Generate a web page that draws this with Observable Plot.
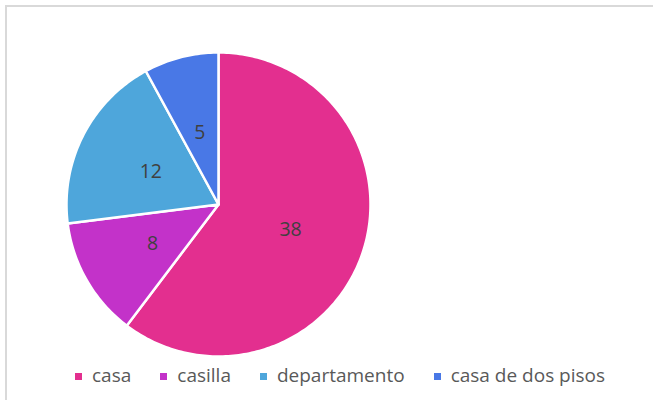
<!DOCTYPE html>
<html>
<head>
<meta charset="utf-8">
<script src="https://cdn.jsdelivr.net/npm/d3@7"></script>
<script src="https://cdn.jsdelivr.net/npm/@observablehq/plot@0.6"></script>
<style>
  html, body { margin: 0; padding: 0; background: #fff; }
  #wrap { position: relative; width: 653px; height: 400px; overflow: hidden; font-family: "Open Sans", sans-serif; }
  #frame { position: absolute; left: 5px; top: 5px; right: -10px; bottom: -10px; border-left: 2px solid #d9d9d9; border-top: 2px solid #d9d9d9; }
  #chart { position: absolute; left: 0; top: 0; }
  #legend { position: absolute; left: 75px; top: 362px; display: flex; align-items: center; font-size: 19px; color: #595959; white-space: nowrap; }
  .item { display: flex; align-items: center; margin-right: 29px; }
  .sw { width: 7px; height: 7px; margin-right: 10px; margin-top: 2px; }
</style>
</head>
<body>
<div id="wrap">
  <div id="frame"></div>
  <div id="chart"></div>
  <div id="legend"></div>
</div>
<script>
const categories = ["casa", "casilla", "departamento", "casa de dos pisos"];
const values = [38, 8, 12, 5];
const colors = ["#E32F8F", "#C332C9", "#4EA6DB", "#4978E6"];

const data = categories.map((c, i) => ({category: c, value: values[i]}));
const arcs = d3.pie().sort(null).value(d => d.value)(data);

function slice(a0, a1) {
  const pts = [[0, 0]];
  const n = Math.max(2, Math.ceil((a1 - a0) / (Math.PI / 180)));
  for (let i = 0; i <= n; i++) {
    const a = a0 + (a1 - a0) * i / n;
    pts.push([Math.sin(a), -Math.cos(a)]);
  }
  pts.push([0, 0]);
  return pts;
}

const features = arcs.map(a => ({
  type: "Feature",
  properties: {category: a.data.category, value: a.data.value},
  geometry: {type: "Polygon", coordinates: [slice(a.startAngle, a.endAngle)]}
}));

const labels = arcs.map(a => {
  const m = (a.startAngle + a.endAngle) / 2;
  return {x: 0.5 * Math.sin(m), y: -0.5 * Math.cos(m), text: String(a.data.value)};
});

const chart = Plot.plot({
  width: 653,
  height: 360,
  marginLeft: 66,
  marginRight: 283,
  marginTop: 52,
  marginBottom: 4,
  style: {fontFamily: "Open Sans, sans-serif", background: "transparent"},
  projection: {type: "identity", domain: {type: "MultiPoint", coordinates: [[-1, -1], [1, 1]]}},
  color: {domain: categories, range: colors},
  marks: [
    Plot.geo(features, {fill: d => d.properties.category, stroke: "white", strokeWidth: 2.5, strokeLinejoin: "round"}),
    Plot.text(labels, {x: "x", y: "y", text: "text", fontSize: 19.5, fill: "#404040", dy: 1.5})
  ]
});
document.getElementById("chart").appendChild(chart);

const legend = d3.select("#legend");
const items = legend.selectAll(".item").data(categories).join("div").attr("class", "item");
items.append("div").attr("class", "sw").style("background", (d, i) => colors[i]);
items.append("span").text(d => d);
</script>
</body>
</html>
